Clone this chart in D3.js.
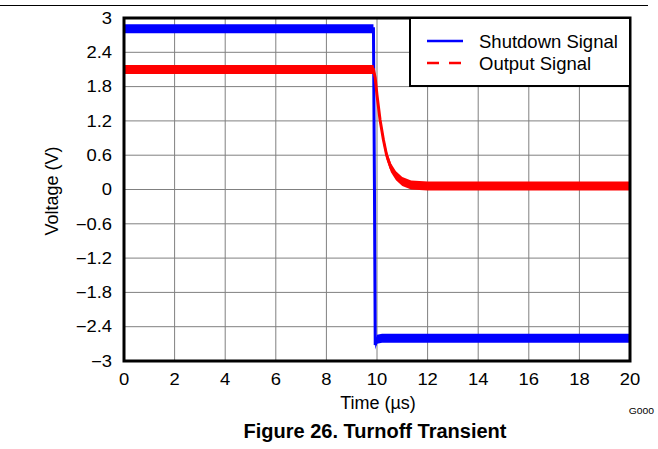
<!DOCTYPE html>
<html>
<head>
<meta charset="utf-8">
<script src="https://cdn.jsdelivr.net/npm/d3@7"></script>
<style>
  body { margin: 0; background: #fff; }
  text { font-family: "Liberation Sans", Arial, sans-serif; fill: #000; }
</style>
</head>
<body>
<div id="chart"></div>
<script>
// werte
const xTicks = [0, 2, 4, 6, 8, 10, 12, 14, 16, 18, 20];
const yTicks = [3, 2.4, 1.8, 1.2, 0.6, 0, -0.6, -1.2, -1.8, -2.4, -3];
const yTickLabels = ["3", "2.4", "1.8", "1.2", "0.6", "0", "\u22120.6", "\u22121.2", "\u22121.8", "\u22122.4", "\u22123"];

const shutdownT = [0, 9.86, 9.9, 9.93, 10.0, 10.2, 20];
const shutdownV = [2.81, 2.81, 0.0, -2.72, -2.62, -2.6, -2.6];

const outputT = [0, 9.86, 9.93, 10.0, 10.12, 10.25, 10.38, 10.55, 10.75, 11.0, 11.35, 12, 20];
const outputV = [2.1, 2.1, 1.95, 1.65, 1.22, 0.88, 0.6, 0.38, 0.24, 0.14, 0.08, 0.06, 0.06];

const legendNames = ["Shutdown Signal", "Output Signal"];

const W = 658, H = 449;
const svg = d3.select("#chart").append("svg")
  .attr("width", W)
  .attr("height", H);

const x = d3.scaleLinear().domain([0, 20]).range([124, 630]);
const y = d3.scaleLinear().domain([-3, 3]).range([361, 18]);

// linie oben (kopfzeile)
svg.append("line")
  .attr("x1", 0).attr("x2", 648)
  .attr("y1", 5.5).attr("y2", 5.5)
  .attr("stroke", "#000").attr("stroke-width", 1);

// gitternetz
svg.append("g")
  .selectAll("line")
  .data(xTicks.slice(1, -1))
  .enter().append("line")
  .attr("x1", d => x(d)).attr("x2", d => x(d))
  .attr("y1", y(3)).attr("y2", y(-3))
  .attr("stroke", "#808080").attr("stroke-width", 1);

svg.append("g")
  .selectAll("line")
  .data(yTicks.slice(1, -1))
  .enter().append("line")
  .attr("x1", x(0)).attr("x2", x(20))
  .attr("y1", d => y(d)).attr("y2", d => y(d))
  .attr("stroke", "#808080").attr("stroke-width", 1);

// signale: band fuer das rauschen + duenne linie
function drawSignal(ts, vs, color, half) {
  const pts = ts.map((t, i) => [t, vs[i]]);
  const area = d3.area()
    .x(d => x(d[0]))
    .y0(d => y(d[1]) + half)
    .y1(d => y(d[1]) - half);
  const line = d3.line()
    .x(d => x(d[0]))
    .y(d => y(d[1]));
  svg.append("path")
    .datum(pts)
    .attr("d", area)
    .attr("fill", color);
  svg.append("path")
    .datum(pts)
    .attr("d", line)
    .attr("fill", "none")
    .attr("stroke", color)
    .attr("stroke-width", 3);
}

drawSignal(shutdownT, shutdownV, "#0000ff", 4.5);
drawSignal(outputT, outputV, "#ff0000", 4.5);

// rahmen
svg.append("rect")
  .attr("x", x(0)).attr("y", y(3))
  .attr("width", x(20) - x(0)).attr("height", y(-3) - y(3))
  .attr("fill", "none")
  .attr("stroke", "#000").attr("stroke-width", 3);

// achsenbeschriftung (ticks etwas breit gezogen wie im original)
svg.append("g")
  .selectAll("text")
  .data(yTicks)
  .enter().append("text")
  .attr("transform", d => "translate(112," + y(d) + ") scale(1.15,1)")
  .attr("dy", "0.36em")
  .attr("text-anchor", "end")
  .style("font-size", "16px")
  .text((d, i) => yTickLabels[i]);

svg.append("g")
  .selectAll("text")
  .data(xTicks)
  .enter().append("text")
  .attr("transform", d => "translate(" + x(d) + ",385) scale(1.15,1)")
  .attr("text-anchor", "middle")
  .style("font-size", "16px")
  .text(d => d);

svg.append("text")
  .attr("transform", "translate(58,191) rotate(-90)")
  .attr("text-anchor", "middle")
  .style("font-size", "18px")
  .text("Voltage (V)");

svg.append("text")
  .attr("x", 378).attr("y", 409)
  .attr("text-anchor", "middle")
  .style("font-size", "18px")
  .text("Time (\u00b5s)");

svg.append("text")
  .attr("transform", "translate(654,414) scale(1.15,1)")
  .attr("text-anchor", "end")
  .style("font-size", "9px")
  .text("G000");

svg.append("text")
  .attr("x", 375).attr("y", 438)
  .attr("text-anchor", "middle")
  .style("font-size", "20px")
  .style("font-weight", "bold")
  .text("Figure 26. Turnoff Transient");

// legende
const legend = svg.append("g");
legend.append("rect")
  .attr("x", 410).attr("y", 18)
  .attr("width", 220).attr("height", 68)
  .attr("fill", "#fff")
  .attr("stroke", "#000").attr("stroke-width", 2);

const legendColors = ["#0000ff", "#ff0000"];
const legendDash = [null, "12,10"];
legendNames.forEach(function(name, i) {
  const ly = 41 + i * 22;
  legend.append("line")
    .attr("x1", 427).attr("x2", 463)
    .attr("y1", ly).attr("y2", ly)
    .attr("stroke", legendColors[i])
    .attr("stroke-width", 2.5)
    .attr("stroke-dasharray", legendDash[i]);
  legend.append("text")
    .attr("x", 479).attr("y", ly + 6.5)
    .style("font-size", "18.5px")
    .text(name);
});
</script>
</body>
</html>
